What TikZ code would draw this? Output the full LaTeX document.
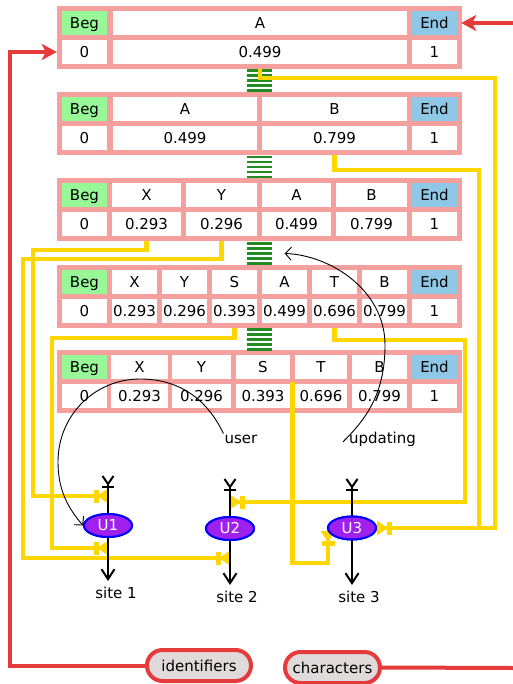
\documentclass[tikz,border=0pt]{standalone}
\usepackage{fontspec}
\setmainfont{DejaVu Sans}
\usetikzlibrary{arrows.meta,shapes.geometric}
\definecolor{pinkc}{HTML}{F4A09E}
\definecolor{begc}{HTML}{98F898}
\definecolor{endc}{HTML}{8EC8E6}
\definecolor{ylw}{HTML}{FFD700}
\definecolor{redc}{HTML}{E53B3B}
\definecolor{grn}{HTML}{228B22}
\definecolor{purp}{HTML}{A020F0}
\definecolor{pillc}{HTML}{E0DADA}
\newcommand\mytable[3]{%
  \fill[pinkc] (57,#2) rectangle (462,#2+63);
  \node[cellbox,fill=begc,minimum width=45pt] (#1hb) at (84.5,#2+17) {Beg};
  \node[cellbox,fill=white,minimum width=45pt] (#1vb) at (84.5,#2+46) {0};
  \node[cellbox,fill=endc,minimum width=45pt] (#1he) at (434.5,#2+17) {End};
  \node[cellbox,fill=white,minimum width=45pt] (#1ve) at (434.5,#2+46) {1};
  \foreach \xa/\xb/\hd/\vl [count=\i] in {#3} {
    \node[cellbox,fill=white,minimum width={\xb-\xa}] (#1h\i) at ({(\xa+\xb)/2},#2+17) {\hd};
    \node[cellbox,fill=white,minimum width={\xb-\xa}] (#1v\i) at ({(\xa+\xb)/2},#2+46) {\vl};
  }%
}
\newcommand\mystack[1]{%
  \foreach \k in {0,...,4} \draw[grn,line width=2.7pt] (247,#1+5*\k) -- (272,#1+5*\k);%
}
\begin{document}
\begin{tikzpicture}[x=1pt,y=-1pt,font=\fontsize{15}{18}\selectfont,
  cellbox/.style={rectangle,inner sep=0pt,minimum height=24pt,text height=11pt,text depth=0pt,text=black},
  yl/.style={draw=ylw,line width=4.5pt,line join=miter},
  ytip/.style={arrows={-{Bar[width=13pt,line width=5pt,sep=-1.5pt]Triangle[reversed,length=11pt,width=14pt]}}},
  rl/.style={draw=redc,line width=4pt},
  rtip/.style={arrows={-{Stealth[length=15pt,width=16pt,inset=4pt]}}},
  sl/.style={draw=black,line width=2pt,arrows={{Straight Barb[reversed,length=8pt,width=11pt]Bar[width=12pt]}-{Straight Barb[length=10pt,width=13pt]}}},
  tl/.style={draw=black,line width=0.9pt,arrows={-{Straight Barb[length=6pt,width=13pt]}}},
  unode/.style={ellipse,fill=purp,draw=blue,line width=2pt,minimum width=48pt,minimum height=23pt,inner sep=0pt,text=white},
  pill/.style={rectangle,rounded corners=15.5pt,draw=redc,fill=pillc,line width=4pt,minimum height=31pt,inner sep=0pt}]
\useasboundingbox (0,0) rectangle (513,684);
\fill[white] (0,0) rectangle (513,684);
% tables
\mytable{t1}{6}{113/407/A/0.499}
\mytable{t2}{92}{113/257/A/0.499, 262/407/B/0.799}
\mytable{t3}{178}{112/181/X/0.293, 186/257/Y/0.296, 262/331/A/0.499, 336/407/B/0.799}
\mytable{t4}{265}{112/157/X/0.293, 162/207/Y/0.296, 212/257/S/0.393, 262/307/A/0.499, 312/357/T/0.696, 362/407/B/0.799}
\mytable{t5}{350}{111/168/X/0.293, 172/231/Y/0.296, 236/290/S/0.393, 295/347/T/0.696, 352/407/B/0.799}
% green stacks
\mystack{70.5}
\mystack{157}
\mystack{243.5}
\mystack{329.5}
\node[inner sep=0pt,minimum width=50pt,minimum height=20pt] (g3) at (259.5,253.5) {};
% coordinates
\coordinate (u1a) at (108,496);
\coordinate (u1b) at (108,548);
\coordinate (u2a) at (230,502);
\coordinate (u2b) at (230,558);
\coordinate (u3c) at (328,531);
\coordinate (j1) at (479,528);
\coordinate (y7s) at (292.5,382);
\coordinate (s1t) at (108,475);
\coordinate (s1b) at (108,581);
\coordinate (s2t) at (230,478);
\coordinate (s2b) at (230,585);
\coordinate (s3t) at (352,478);
\coordinate (s3b) at (352,585);
\coordinate (rin) at (513,23);
\coordinate (rout) at (513,668);
\coordinate (rcorner) at (10,52);
% site nodes (placed early for names)
\node[unode] (u1) at (108,525.5) {U1};
\node[unode] (u2) at (230,528.5) {U2};
\node[unode] (u3) at (352,528) {U3};
% yellow connectors
\draw[yl,ytip,shorten <=5pt] (t1v1.south) |- (495,78) |- (u3.east);
\draw[yl,shorten <=5pt] (t2v2.south) |- (479,170) -- (j1);
\draw[yl,ytip,shorten <=5pt] (t3v1.south) |- (33,250) |- (u1a);
\draw[yl,ytip,shorten <=5pt] (t3v2.south) |- (23,259) |- (u2b);
\draw[yl,ytip,shorten <=5pt] (t4v3.south) |- (52,338) |- (u1b);
\draw[yl,ytip,shorten <=5pt] (t4v5.south) |- (465,340) |- (u2a);
\draw[yl,ytip] (y7s) |- (328,563) -- (u3c);
% site lines
\draw[sl] (s1t) -- (s1b);
\draw[sl] (s2t) -- (s2b);
\draw[sl] (s3t) -- (s3b);
\node[unode] at (u1) {U1};
\node[unode] at (u2) {U2};
\node[unode] at (u3) {U3};
\node (st1) at (116,593) {site 1};
\node (st2) at (237,597) {site 2};
\node (st3) at (359,597) {site 3};
% red
\node[pill,minimum width=104pt] (ident) at (199,665.5) {identifiers};
\node[pill,minimum width=95pt] (chars) at (332.5,667.5) {characters};
\draw[rl,rtip,shorten >=4pt] (rin) -- (t1he.east);
\draw[rl,rtip,shorten >=5pt] (ident.west) -| (rcorner) -- (t1vb.west);
\draw[rl] (chars.east) -- (rout);
% labels and thin arrows
\node[inner sep=1pt] (user) at (241,439) {user};
\node[inner sep=1pt] (upd) at (382.5,439) {updating};
\draw[tl] (user.north west) .. controls (205,395) and (175,379) .. (140,379) .. controls (95,379) and (58,415) .. (58,462) .. controls (58,490) and (68,508) .. (u1.west);
\draw[tl] ([xshift=-5pt,yshift=-3pt]upd.west) .. controls (365,420) and (385,395) .. (385,345) .. controls (385,290) and (330,255) .. (g3.east);
\end{tikzpicture}
\end{document}
